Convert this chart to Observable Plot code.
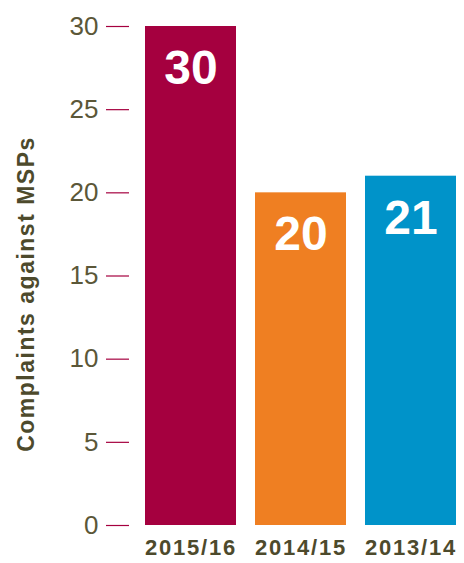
<!DOCTYPE html>
<html>
<head>
<meta charset="utf-8">
<script src="https://cdn.jsdelivr.net/npm/d3@7"></script>
<script src="https://cdn.jsdelivr.net/npm/@observablehq/plot@0.6"></script>
<style>
  html, body { margin: 0; padding: 0; background: #fff; }
  #chart svg { display: block; }
  #chart g[aria-label="x-axis tick label"] text { letter-spacing: 1.8px; }
  #chart g.ytitle text { letter-spacing: 1.5px; }
</style>
</head>
<body>
<div id="chart"></div>
<script>
const years = ["2015/16", "2014/15", "2013/14"];
const complaints = [30, 20, 21];
const barColors = ["#a5003f", "#ef7f22", "#0093c9"];
const yTicks = [0, 5, 10, 15, 20, 25, 30];
const yTitle = "Complaints against MSPs";

const data = years.map((y, i) => ({year: y, value: complaints[i], color: barColors[i]}));

const chart = Plot.plot({
  width: 464,
  height: 563,
  marginTop: 26,
  marginBottom: 38,
  marginLeft: 144,
  marginRight: 6,
  style: {fontFamily: "'Liberation Sans', Arial, sans-serif", background: "#fff"},
  x: {domain: years, paddingInner: 0.171, paddingOuter: 0, axis: null},
  y: {domain: [0, 30], axis: null},
  marks: [
    Plot.barY(data, {x: "year", y: "value", fill: "color"}),
    Plot.text(data, {x: "year", y: "value", text: d => String(d.value), fill: "#fff",
      fontSize: 48, fontWeight: "bold", dy: 42, lineAnchor: "middle"}),
    Plot.axisY({ticks: yTicks, tickSize: 23, dx: -15, tickPadding: 8, stroke: "#a5003f",
      strokeWidth: 1.2, fill: "#5b5738", fontSize: 26, label: null, tickFormat: d => String(d)}),
    Plot.axisX({tickSize: 0, tickPadding: 14, fill: "#4d4a2c", fontSize: 22,
      fontWeight: "bold", label: null}),
    Plot.text([yTitle], {frameAnchor: "left", textAnchor: "middle", dx: -118, dy: 18, rotate: -90,
      fill: "#4d4a2c", fontSize: 23, fontWeight: "bold", text: d => d, className: "ytitle"})
  ]
});
document.getElementById("chart").appendChild(chart);
</script>
</body>
</html>
